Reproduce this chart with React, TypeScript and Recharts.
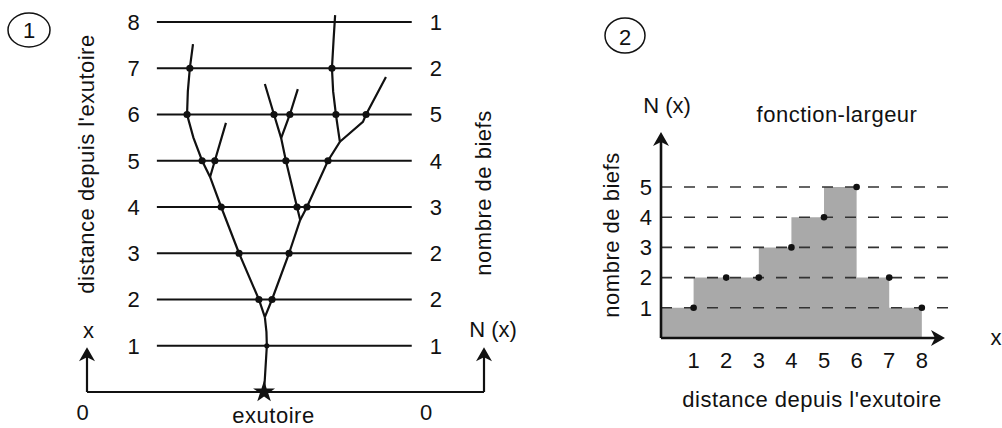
import React from 'react'
import {
  ComposedChart, Line, Area, Scatter, XAxis, YAxis, ReferenceLine, Label, Symbols,
} from 'recharts'

const FONT = '"Liberation Sans", Arial, Helvetica, sans-serif'
const INK = '#111'

// schéma 1 : niveaux de distance et nombre de biefs coupés à chaque niveau
const niveaux = [1, 2, 3, 4, 5, 6, 7, 8]
const nombreBiefs = [1, 2, 2, 3, 4, 5, 2, 1]
const niveauDebut = 17.6
const niveauFin = 81.8

// réseau : chaque tronçon est une polyligne (x arbitraire 0-100, y = distance)
const tronc = [
  { x: 44.6, y: 0 }, { x: 45.3, y: 1 }, { x: 45.2, y: 1.3 }, { x: 44.8, y: 1.62 },
]
const brancheOuest = [
  { x: 44.8, y: 1.62 }, { x: 43.3, y: 2 }, { x: 38.3, y: 3 }, { x: 33.8, y: 4 },
  { x: 31.0, y: 4.65 }, { x: 29.0, y: 5 }, { x: 26.8, y: 5.5 }, { x: 25.2, y: 6 },
  { x: 25.4, y: 6.5 }, { x: 25.9, y: 7 }, { x: 26.7, y: 7.52 },
]
const affluentOuest = [{ x: 31.0, y: 4.65 }, { x: 32.2, y: 5 }, { x: 35.0, y: 5.82 }]
const brancheEst = [
  { x: 44.8, y: 1.62 }, { x: 46.6, y: 2 }, { x: 50.9, y: 3 }, { x: 53.7, y: 3.72 },
]
const brancheCentre = [
  { x: 53.7, y: 3.72 }, { x: 52.9, y: 4 }, { x: 50.1, y: 5 }, { x: 48.9, y: 5.49 },
  { x: 47.1, y: 6 }, { x: 44.8, y: 6.66 },
]
const affluentCentre = [{ x: 48.9, y: 5.49 }, { x: 51.1, y: 6 }, { x: 53.1, y: 6.55 }]
const brancheNord = [
  { x: 53.7, y: 3.72 }, { x: 55.4, y: 4 }, { x: 60.7, y: 5 }, { x: 63.7, y: 5.41 },
  { x: 63.2, y: 5.7 }, { x: 62.7, y: 6 }, { x: 62.0, y: 6.5 }, { x: 61.7, y: 7 },
  { x: 62.1, y: 7.6 }, { x: 62.5, y: 8.15 },
]
const affluentNord = [
  { x: 63.7, y: 5.41 }, { x: 69.5, y: 5.84 }, { x: 70.3, y: 6 }, { x: 75.3, y: 6.81 },
]
const exutoire = [{ x: 44.6, y: 0 }]
const flechesSchema = [{ x: 0, y: 0.97 }, { x: 100, y: 0.97 }]

const reseau = [tronc, brancheOuest, affluentOuest, brancheEst, brancheCentre, affluentCentre, brancheNord, affluentNord]
const noeuds = reseau.flatMap(b => b.filter(p => Number.isInteger(p.y) && p.y >= 1))

// schéma 2 : fonction-largeur
const distances = [1, 2, 3, 4, 5, 6, 7, 8]
const largeur = [1, 2, 2, 3, 4, 5, 2, 1]
const graduationsN = [1, 2, 3, 4, 5]
const escalier = [{ x: 0, y: largeur[0] }, ...distances.map((d, i) => ({ x: d, y: largeur[i] }))]
const pointsLargeur = distances.map((d, i) => ({ x: d, y: largeur[i] }))
const flecheN = [{ x: 0, y: 6.82 }]
const flecheX = [{ x: 8.71, y: 0 }]

const UpArrow = (p: any) => (
  <path d={`M${p.cx},${p.cy} L${p.cx + 8},${p.cy + 14} L${p.cx},${p.cy + 10} L${p.cx - 8},${p.cy + 14} Z`} fill={INK} />
)
const RightArrow = (p: any) => (
  <path d={`M${p.cx},${p.cy} L${p.cx - 14},${p.cy - 8} L${p.cx - 10},${p.cy} L${p.cx - 14},${p.cy + 8} Z`} fill={INK} />
)
const Star = (p: any) => <Symbols cx={p.cx} cy={p.cy} type="star" size={150} fill={INK} />
const Node = (p: any) => <circle cx={p.cx} cy={p.cy} r={p.payload.y === 1 ? 2.6 : 3.6} fill={INK} />
const SmallDot = (p: any) => <circle cx={p.cx} cy={p.cy} r={3.3} fill={INK} />

function Schema() {
  return (
    <ComposedChart width={520} height={428} margin={{ top: 3.5, right: 36, bottom: 36, left: 87 }}
      style={{ fontFamily: FONT }}>
      <XAxis type="number" dataKey="x" domain={[0, 100]} hide />
      <YAxis type="number" dataKey="y" domain={[0, 8.4]} hide />
      {niveaux.map((n, i) => (
        <ReferenceLine key={n} segment={[{ x: niveauDebut, y: n }, { x: niveauFin, y: n }]}
          stroke={INK} strokeWidth={2.2}>
          <Label value={n} position="left" offset={17} fontSize={22} fill={INK} />
          <Label value={nombreBiefs[i]} position="right" offset={18} fontSize={22} fill={INK} />
        </ReferenceLine>
      ))}
      <ReferenceLine segment={[{ x: 0, y: 0 }, { x: 100, y: 0 }]} stroke={INK} strokeWidth={2.2} />
      <ReferenceLine segment={[{ x: 0, y: 0 }, { x: 0, y: 0.85 }]} stroke={INK} strokeWidth={2.2} />
      <ReferenceLine segment={[{ x: 100, y: 0 }, { x: 100, y: 0.85 }]} stroke={INK} strokeWidth={2.2} />
      {reseau.map((b, i) => (
        <Line key={i} data={b} dataKey="y" type="linear" stroke={INK} strokeWidth={2.2}
          dot={false} activeDot={false} isAnimationActive={false} />
      ))}
      <Scatter data={noeuds} dataKey="y" shape={Node} isAnimationActive={false} />
      <Scatter data={flechesSchema} dataKey="y" shape={UpArrow} isAnimationActive={false} />
      <Scatter data={exutoire} dataKey="y" shape={Star} isAnimationActive={false} />
    </ComposedChart>
  )
}

function FonctionLargeur() {
  return (
    <ComposedChart width={482} height={428} margin={{ top: 131.1, right: 49.2, bottom: 60, left: 101 }}
      style={{ fontFamily: FONT }}>
      <XAxis type="number" dataKey="x" domain={[0, 8.95]} ticks={distances} interval={0}
        axisLine={false} tickLine={false} tickSize={0} tickMargin={14} height={30}
        tick={{ fontSize: 22, fill: INK }} />
      <YAxis type="number" dataKey="y" domain={[0, 6.85]} ticks={graduationsN} interval={0}
        axisLine={false} tickLine={false} tickSize={0} tickMargin={9} width={40}
        tick={{ fontSize: 22, fill: INK }} />
      <Area data={escalier} dataKey="y" type="stepBefore" fill="#a9a9a9" fillOpacity={1}
        stroke="none" isAnimationActive={false} />
      {graduationsN.map(n => (
        <ReferenceLine key={n} y={n} stroke="#333" strokeWidth={1.6} strokeDasharray="11 12" />
      ))}
      <ReferenceLine segment={[{ x: 0, y: 0 }, { x: 0, y: 6.6 }]} stroke={INK} strokeWidth={2.6} />
      <ReferenceLine segment={[{ x: 0, y: 0 }, { x: 8.5, y: 0 }]} stroke={INK} strokeWidth={2.6} />
      <Scatter data={pointsLargeur} dataKey="y" shape={SmallDot} isAnimationActive={false} />
      <Scatter data={flecheN} dataKey="y" shape={UpArrow} isAnimationActive={false} />
      <Scatter data={flecheX} dataKey="y" shape={RightArrow} isAnimationActive={false} />
    </ComposedChart>
  )
}

export default function App() {
  const txt = { fontFamily: FONT, fill: INK }
  return (
    <div style={{ position: 'absolute', left: 0, top: 0, width: 1002, height: 428, background: '#fff' }}>
      <div style={{ position: 'absolute', left: 0, top: 0 }}><Schema /></div>
      <div style={{ position: 'absolute', left: 520, top: 0 }}><FonctionLargeur /></div>
      <svg width={1002} height={428} style={{ position: 'absolute', left: 0, top: 0, pointerEvents: 'none' }}>
        <g style={txt}>
          <ellipse cx={29} cy={30} rx={21} ry={17} fill="none" stroke={INK} strokeWidth={1.5} />
          <text x={29} y={38} fontSize={22} textAnchor="middle">1</text>
          <ellipse cx={625} cy={35.5} rx={20} ry={17.5} fill="none" stroke={INK} strokeWidth={1.5} />
          <text x={625} y={45} fontSize={22} textAnchor="middle">2</text>

          <text transform="translate(93.7,164) rotate(-90)" fontSize={22} letterSpacing={0.5} textAnchor="middle">distance depuis l'exutoire</text>
          <text transform="translate(490.7,193) rotate(-90)" fontSize={22} letterSpacing={0.5} textAnchor="middle">nombre de biefs</text>
          <text x={88.5} y={338} fontSize={22} textAnchor="middle">x</text>
          <text x={493} y={337} fontSize={22} textAnchor="middle">N (x)</text>
          <text x={82.5} y={420} fontSize={22} textAnchor="middle">0</text>
          <text x={426} y={420} fontSize={22} textAnchor="middle">0</text>
          <text x={273.5} y={423} fontSize={22} letterSpacing={0.5} textAnchor="middle">exutoire</text>

          <text x={667} y={113} fontSize={22} textAnchor="middle">N (x)</text>
          <text x={837} y={122} fontSize={22} letterSpacing={0.5} textAnchor="middle">fonction-largeur</text>
          <text x={996} y={345} fontSize={22} textAnchor="middle">x</text>
          <text x={812} y={407} fontSize={22} letterSpacing={0.5} textAnchor="middle">distance depuis l'exutoire</text>
          <text transform="translate(618.7,235) rotate(-90)" fontSize={22} letterSpacing={0.5} textAnchor="middle">nombre de biefs</text>
        </g>
      </svg>
    </div>
  )
}
